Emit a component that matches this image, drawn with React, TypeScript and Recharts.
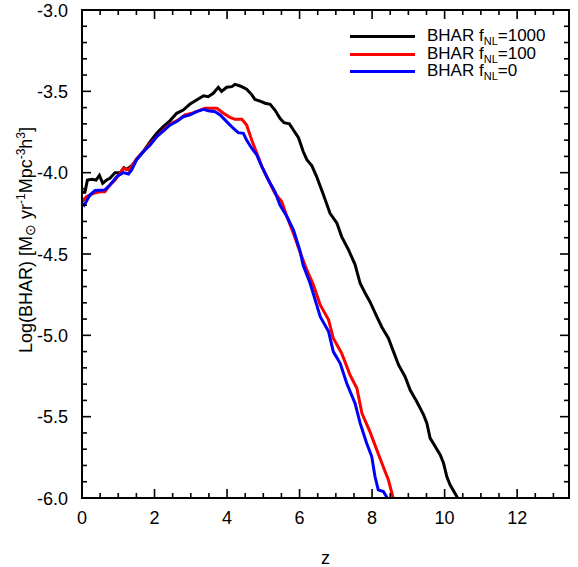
import { LineChart, Line, XAxis, YAxis } from "recharts";

const FONT = "'Liberation Sans', Arial, Helvetica, sans-serif";

const W = 578;
const H = 567;
// plot box in pixels; chart margins are derived from it so the overlay frame lines up
const PLOT = { left: 82, top: 10, right: 569, bottom: 498 };

const Z_MAX = 13.43;
const LOG_MIN = -6;
const LOG_MAX = -3;

// redshift ticks (major every 2, minor every 0.5)
const zTicks = [
  0, 0.5, 1, 1.5, 2, 2.5, 3, 3.5, 4, 4.5, 5, 5.5, 6, 6.5, 7, 7.5, 8, 8.5, 9,
  9.5, 10, 10.5, 11, 11.5, 12, 12.5, 13,
];
// log BHAR ticks (major every 0.5, minor every 0.1)
const logTicks = [
  -6.0, -5.9, -5.8, -5.7, -5.6, -5.5, -5.4, -5.3, -5.2, -5.1, -5.0, -4.9, -4.8,
  -4.7, -4.6, -4.5, -4.4, -4.3, -4.2, -4.1, -4.0, -3.9, -3.8, -3.7, -3.6, -3.5,
  -3.4, -3.3, -3.2, -3.1, -3.0,
];

// fNL = 1000
const z1000 = [
  0, 0.08, 0.15, 0.27, 0.39, 0.48, 0.57, 0.68, 0.77, 0.91, 1.05, 1.16, 1.23,
  1.37, 1.51, 1.69, 1.88, 2.06, 2.24, 2.43, 2.61, 2.79, 2.98, 3.16, 3.35, 3.48,
  3.62, 3.76, 3.85, 3.99, 4.13, 4.22, 4.36, 4.54, 4.68, 4.77, 4.91, 5.05, 5.19,
  5.32, 5.46, 5.57, 5.72, 5.83, 5.97, 6.1, 6.2, 6.34, 6.47, 6.66, 6.84, 7.03,
  7.16, 7.35, 7.53, 7.67, 7.81, 7.94, 8.13, 8.27, 8.45, 8.59, 8.73, 8.91, 9.05,
  9.23, 9.42, 9.51, 9.6, 9.74, 9.88, 9.97, 10.06, 10.15, 10.36,
];
const bhar1000 = [
  -4.12, -4.12, -4.045, -4.04, -4.045, -4.016, -4.065, -4.045, -4.035, -4.0,
  -4.0, -3.97, -3.98, -3.957, -3.92, -3.87, -3.81, -3.758, -3.717, -3.68,
  -3.635, -3.615, -3.578, -3.553, -3.527, -3.533, -3.512, -3.475, -3.5, -3.475,
  -3.471, -3.457, -3.467, -3.487, -3.52, -3.55, -3.56, -3.573, -3.58, -3.615,
  -3.666, -3.693, -3.7, -3.738, -3.785, -3.87, -3.92, -3.958, -4.024, -4.137,
  -4.25, -4.311, -4.393, -4.475, -4.565, -4.68, -4.741, -4.793, -4.885, -4.95,
  -5.018, -5.1, -5.182, -5.254, -5.336, -5.407, -5.489, -5.54, -5.632, -5.684,
  -5.735, -5.786, -5.868, -5.919, -6.0,
];

// fNL = 100
const z100 = [
  0, 0.13, 0.31, 0.5, 0.63, 0.77, 0.91, 1.05, 1.14, 1.28, 1.37, 1.51, 1.69,
  1.88, 2.06, 2.24, 2.47, 2.66, 2.84, 3.03, 3.26, 3.39, 3.72, 3.9, 4.08, 4.22,
  4.41, 4.54, 4.68, 4.82, 4.96, 5.14, 5.32, 5.51, 5.65, 5.83, 6.01, 6.2, 6.38,
  6.57, 6.8, 6.93, 7.16, 7.39, 7.58, 7.72, 7.94, 8.13, 8.27, 8.45, 8.58,
];
const bhar100 = [
  -4.178, -4.147, -4.127, -4.117, -4.117, -4.076, -4.045, -4.004, -3.973,
  -3.983, -3.963, -3.912, -3.871, -3.82, -3.779, -3.738, -3.697, -3.676,
  -3.645, -3.635, -3.615, -3.604, -3.604, -3.635, -3.66, -3.672, -3.672,
  -3.707, -3.799, -3.881, -3.963, -4.045, -4.127, -4.178, -4.27, -4.373,
  -4.486, -4.598, -4.69, -4.813, -4.905, -5.018, -5.11, -5.243, -5.325, -5.48,
  -5.592, -5.704, -5.786, -5.889, -6.0,
];

// fNL = 0
const z0 = [
  0, 0.06, 0.22, 0.36, 0.63, 0.77, 0.96, 1.14, 1.28, 1.37, 1.51, 1.69, 1.88,
  2.06, 2.24, 2.43, 2.61, 2.79, 2.98, 3.16, 3.35, 3.48, 3.67, 3.81, 3.99, 4.17,
  4.31, 4.45, 4.54, 4.68, 4.82, 4.96, 5.14, 5.32, 5.46, 5.65, 5.83, 6.01, 6.1,
  6.29, 6.43, 6.57, 6.8, 6.93, 7.12, 7.3, 7.53, 7.67, 7.85, 7.99, 8.08, 8.17,
  8.31, 8.42,
];
const bhar0 = [
  -4.188, -4.2, -4.137, -4.11, -4.106, -4.076, -4.024, -4.0, -4.008, -3.983,
  -3.918, -3.871, -3.83, -3.779, -3.745, -3.707, -3.686, -3.656, -3.645,
  -3.625, -3.61, -3.619, -3.625, -3.645, -3.686, -3.727, -3.754, -3.758, -3.8,
  -3.85, -3.891, -3.963, -4.045, -4.117, -4.199, -4.27, -4.352, -4.48, -4.57,
  -4.68, -4.782, -4.885, -4.977, -5.1, -5.172, -5.295, -5.418, -5.54, -5.663,
  -5.745, -5.868, -5.95, -5.96, -6.0,
];

const toPoints = (zs: number[], vs: number[]) =>
  zs.map((z, i) => ({ z, v: vs[i] }));

const series = [
  { name: "1000", color: "#000000", data: toPoints(z1000, bhar1000) },
  { name: "100", color: "#ff0000", data: toPoints(z100, bhar100) },
  { name: "0", color: "#0000ff", data: toPoints(z0, bhar0) },
];

const isMajor = (v: number, step: number) =>
  Math.abs(v / step - Math.round(v / step)) < 1e-6;

const bottomLabel = (p: any) => {
  const { x, y, payload } = p;
  if (!isMajor(payload.value, 2)) return <g />;
  return (
    <text x={x} y={y + 26} textAnchor="middle" fontSize={18} fontFamily={FONT} fill="#000">
      {payload.value}
    </text>
  );
};

const leftLabel = (p: any) => {
  const { x, y, payload } = p;
  if (!isMajor(payload.value, 0.5)) return <g />;
  return (
    <text x={x - 14} y={y + 6.5} textAnchor="end" fontSize={18} fontFamily={FONT} fill="#000">
      {payload.value.toFixed(1)}
    </text>
  );
};

// box frame with inward ticks on all four sides (IDL style), drawn as filled rects
function Frame() {
  const sx = (z: number) => PLOT.left + (z / Z_MAX) * (PLOT.right - PLOT.left);
  const sy = (v: number) =>
    PLOT.bottom - ((v - LOG_MIN) / (LOG_MAX - LOG_MIN)) * (PLOT.bottom - PLOT.top);
  const t = 1.6;
  const marks: JSX.Element[] = [];
  zTicks.forEach((z) => {
    const len = isMajor(z, 2) ? 9 : 5;
    const x = sx(z) - t / 2;
    marks.push(<rect key={`b${z}`} x={x} y={PLOT.bottom - len} width={t} height={len} fill="#000" />);
    marks.push(<rect key={`t${z}`} x={x} y={PLOT.top} width={t} height={len} fill="#000" />);
  });
  logTicks.forEach((v) => {
    const len = isMajor(v, 0.5) ? 9 : 5;
    const y = sy(v) - t / 2;
    marks.push(<rect key={`l${v}`} x={PLOT.left} y={y} width={len} height={t} fill="#000" />);
    marks.push(<rect key={`r${v}`} x={PLOT.right - len} y={y} width={len} height={t} fill="#000" />);
  });
  const bw = PLOT.right - PLOT.left;
  const bh = PLOT.bottom - PLOT.top;
  return (
    <svg width={W} height={H} style={{ position: "absolute", left: 0, top: 0, zIndex: 5 }}>
      {marks}
      <rect x={PLOT.left - 1} y={PLOT.top - 1} width={bw + 2} height={2} fill="#000" />
      <rect x={PLOT.left - 1} y={PLOT.bottom - 1} width={bw + 2} height={2} fill="#000" />
      <rect x={PLOT.left - 1} y={PLOT.top - 1} width={2} height={bh + 2} fill="#000" />
      <rect x={PLOT.right - 1} y={PLOT.top - 1} width={2} height={bh + 2} fill="#000" />
    </svg>
  );
}

function YTitle() {
  const cx = 32;
  const cy = 240;
  return (
    <svg width={60} height={H} style={{ position: "absolute", left: 0, top: 0 }}>
      <text
        x={cx}
        y={cy}
        transform={`rotate(-90, ${cx}, ${cy})`}
        textAnchor="middle"
        fontSize={18}
        fontFamily={FONT}
        fill="#000"
      >
        Log(BHAR) [M
        <tspan fontSize={14} dy={3}>⊙</tspan>
        <tspan fontSize={18} dy={-3}> yr</tspan>
        <tspan fontSize={12} dy={-7}>-1</tspan>
        <tspan fontSize={18} dy={7}>Mpc</tspan>
        <tspan fontSize={12} dy={-7}>-3</tspan>
        <tspan fontSize={18} dy={7}>h</tspan>
        <tspan fontSize={12} dy={-7}>3</tspan>
        <tspan fontSize={18} dy={7}>]</tspan>
      </text>
    </svg>
  );
}

function LegendBox() {
  return (
    <div style={{ position: "absolute", left: 350, top: 28, fontFamily: FONT, fontSize: 17, color: "#000" }}>
      {series.map((s) => (
        <div key={s.name} style={{ display: "flex", alignItems: "center", height: 17.5 }}>
          <div style={{ width: 65, height: 3, background: s.color, marginRight: 12 }} />
          <span style={{ lineHeight: "17.5px", whiteSpace: "nowrap" }}>
            BHAR f
            <span style={{ fontSize: 11, position: "relative", top: 4 }}>NL</span>={s.name}
          </span>
        </div>
      ))}
    </div>
  );
}

export default function App() {
  return (
    <div style={{ position: "absolute", left: 0, top: 0, width: W, height: H, background: "#fff" }}>
      <LineChart
        width={W}
        height={H}
        margin={{ top: PLOT.top, right: W - PLOT.right, bottom: 0, left: 0 }}
      >
        <XAxis
          type="number"
          dataKey="z"
          domain={[0, Z_MAX]}
          ticks={zTicks}
          interval={0}
          tickSize={0}
          tickMargin={0}
          tickLine={false}
          tick={bottomLabel}
          height={H - PLOT.bottom}
          axisLine={{ stroke: "#000", strokeWidth: 1.5 }}
          label={{ value: "z", position: "insideBottom", offset: 3, fontSize: 18, fontFamily: FONT, fill: "#000" }}
        />
        <YAxis
          type="number"
          domain={[LOG_MIN, LOG_MAX]}
          ticks={logTicks}
          interval={0}
          tickSize={0}
          tickMargin={0}
          tickLine={false}
          tick={leftLabel}
          width={PLOT.left}
          axisLine={{ stroke: "#000", strokeWidth: 1.5 }}
        />
        {series.map((s) => (
          <Line
            key={s.name}
            name={s.name}
            data={s.data}
            dataKey="v"
            type="linear"
            stroke={s.color}
            strokeWidth={3}
            dot={false}
            isAnimationActive={false}
          />
        ))}
      </LineChart>
      <Frame />
      <YTitle />
      <LegendBox />
    </div>
  );
}
